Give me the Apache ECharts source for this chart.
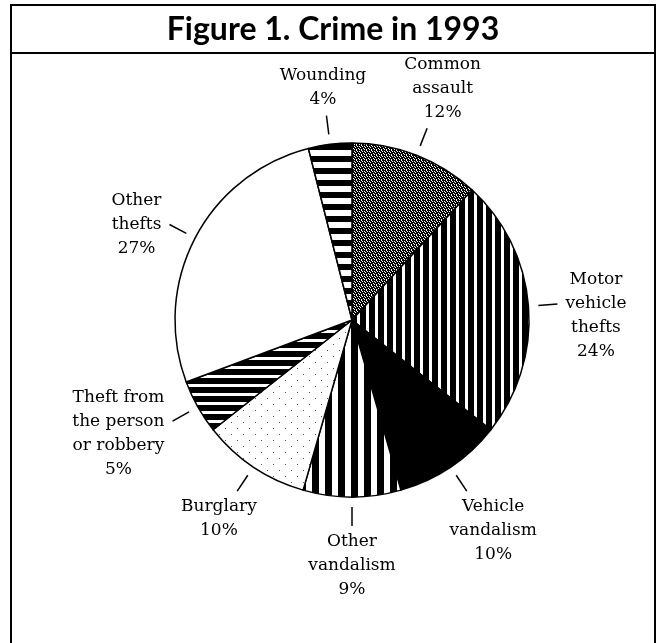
<!DOCTYPE html>
<html>
<head>
<meta charset="utf-8">
<script src="https://cdn.jsdelivr.net/npm/echarts@6/dist/echarts.min.js"></script>
<style>
  html, body { margin: 0; padding: 0; background: #fff; }
  #chart { width: 666px; height: 643px; }
</style>
</head>
<body>
<div id="chart"></div>
<script>
// crime categories, clockwise from 12 o'clock
var categories = ['Common\nassault', 'Motor\nvehicle\nthefts', 'Vehicle\nvandalism', 'Other\nvandalism',
                  'Burglary', 'Theft from\nthe person\nor robbery', 'Other\nthefts', 'Wounding'];
var percents = [12, 24, 10, 9, 10, 5, 27, 4];

var LINE_H = 24;

// small canvas tiles used as fills
function tile(w, h, paint) {
    var c = document.createElement('canvas');
    c.width = w;
    c.height = h;
    var ctx = c.getContext('2d');
    ctx.fillStyle = '#fff';
    ctx.fillRect(0, 0, w, h);
    ctx.fillStyle = '#000';
    paint(ctx);
    return { image: c, repeat: 'repeat' };
}
function fromRows(rows) {
    return tile(rows[0].length, rows.length, function (ctx) {
        rows.forEach(function (r, y) {
            for (var x = 0; x < r.length; x++) if (r[x] === 'B') ctx.fillRect(x, y, 1, 1);
        });
    });
}

var fills = [
    fromRows(['BWBBB', 'BBWBW', 'WBBBB', 'BBBWB', 'BWBBW']),     // dark stipple
    tile(9, 1, function (ctx) { ctx.fillRect(0, 0, 6, 1); }),     // thin white verticals
    '#000',                                                     // solid
    tile(13, 1, function (ctx) { ctx.fillRect(0, 0, 7, 1); }),    // wide verticals
    tile(12, 12, function (ctx) {                                // sparse dots
        ctx.fillStyle = '#555';
        ctx.fillRect(3, 2, 1, 1);
        ctx.fillRect(9, 8, 1, 1);
    }),
    tile(1, 9, function (ctx) { ctx.fillRect(0, 0, 1, 6); }),     // black with white lines
    '#fff',
    tile(1, 12, function (ctx) { ctx.fillRect(0, 0, 1, 6); })     // horizontal stripes
];

var pieData = categories.map(function (name, i) {
    return { name: name, value: percents[i], itemStyle: { color: fills[i] } };
});
var labelData = categories.map(function (name, i) {
    return { name: name, value: percents[i] };
});

// centred text beyond the tick; side labels have the tick pointing at their second line
function placeLabel(p) {
    var pts = p.labelLinePoints;
    if (!pts) return {};
    var a = pts[0], b = pts[1];
    var dx = b[0] - a[0], dy = b[1] - a[1];
    var len = Math.sqrt(dx * dx + dy * dy) || 1;
    dx /= len; dy /= len;
    var hw = p.labelRect.width / 2, hh = p.labelRect.height / 2;
    var x, y;
    if (Math.abs(dx) > 0.8) {
        x = b[0] + (dx > 0 ? 1 : -1) * (hw + 8);
        y = b[1] - 1.5 * LINE_H + hh;
    } else {
        var d = Math.min(Math.abs(dx) > 1e-6 ? hw / Math.abs(dx) : 1e9,
                         Math.abs(dy) > 1e-6 ? hh / Math.abs(dy) : 1e9) + 4;
        x = b[0] + dx * d;
        y = b[1] + dy * d;
    }
    return { x: x, y: y, align: 'center', verticalAlign: 'middle', labelLinePoints: pts };
}

var option = {
    backgroundColor: '#fff',
    animation: false,
    title: {
        text: 'Figure 1. Crime in 1993',
        left: 'center',
        top: 9,
        textStyle: { fontFamily: 'Lato', fontWeight: 'bold', fontSize: 32, color: '#000' }
    },
    graphic: [
        {
            type: 'rect',
            shape: { x: 11, y: 5, width: 644, height: 660 },
            style: { fill: 'none', stroke: '#000', lineWidth: 2 }
        },
        {
            type: 'line',
            shape: { x1: 11, y1: 53, x2: 655, y2: 53 },
            style: { stroke: '#000', lineWidth: 2 }
        }
    ],
    series: [
        {
            type: 'pie',
            center: [352, 320],
            radius: 177,
            startAngle: 90,
            clockwise: true,
            silent: true,
            label: { show: false },
            labelLine: { show: false },
            itemStyle: { borderColor: '#000', borderWidth: 1.5 },
            data: pieData
        },
        {
            // invisible ring, only carries the labels and their ticks
            type: 'pie',
            center: [352, 320],
            radius: 187,
            startAngle: 90,
            clockwise: true,
            silent: true,
            avoidLabelOverlap: false,
            itemStyle: { color: 'rgba(0,0,0,0)', borderWidth: 0 },
            label: {
                show: true,
                position: 'outside',
                color: '#000',
                fontFamily: 'DejaVu Serif',
                fontSize: 17,
                lineHeight: LINE_H,
                formatter: function (p) { return p.name + '\n' + p.value + '%'; }
            },
            labelLine: {
                show: true,
                length: 19,
                length2: 0,
                lineStyle: { color: '#000', width: 1.5 }
            },
            labelLayout: placeLabel,
            data: labelData
        }
    ]
};

var chart = echarts.init(document.getElementById('chart'));
chart.setOption(option);
</script>
</body>
</html>
